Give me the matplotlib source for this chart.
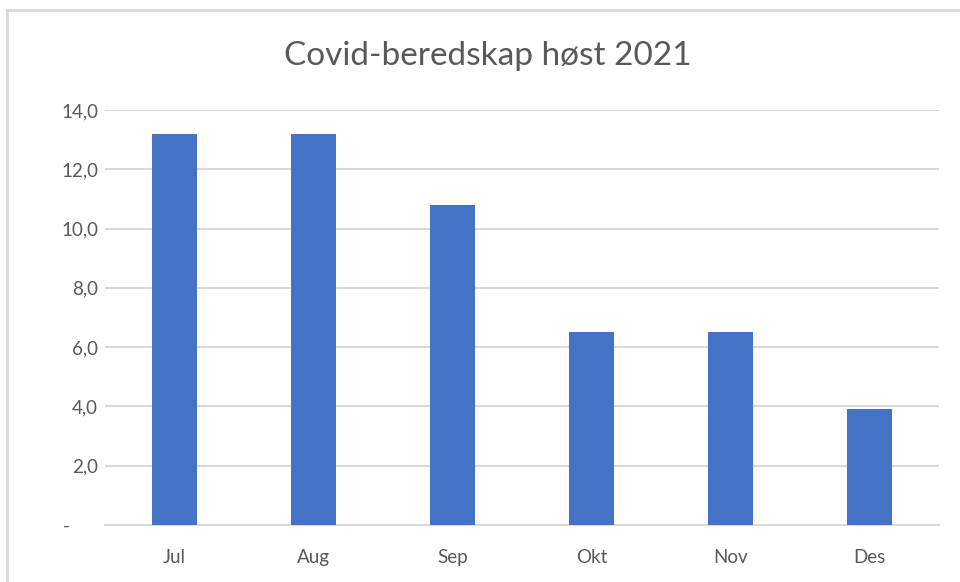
import matplotlib.pyplot as plt
from matplotlib.lines import Line2D

# data
months = ['Jul', 'Aug', 'Sep', 'Okt', 'Nov', 'Des']
values = [13.2, 13.2, 10.8, 6.5, 6.5, 3.9]
yticks = [0, 2, 4, 6, 8, 10, 12, 14]
ytick_labels = ['-      ', '2,0', '4,0', '6,0', '8,0', '10,0', '12,0', '14,0']

plt.rcParams['font.family'] = ['Lato', 'DejaVu Sans']
text_color = '#595959'
grid_color = '#D9D9D9'

fig = plt.figure(figsize=(9.6, 5.82), dpi=100)
ax = fig.add_axes([0.1094, 0.098, 0.869, 0.713])

ax.bar(range(len(months)), values, width=0.32, color='#4472C4', zorder=3)

ax.set_xlim(-0.5, len(months) - 0.5)
ax.set_ylim(0, 14)
ax.set_yticks(yticks)
ax.set_yticklabels(ytick_labels)
ax.set_xticks(range(len(months)))
ax.set_xticklabels(months)

ax.tick_params(axis='both', length=0, colors=text_color, labelsize=13.5)
ax.tick_params(axis='x', pad=17)
ax.tick_params(axis='y', pad=5)
ax.grid(axis='y', color=grid_color, linewidth=1.5, zorder=0)
for s in ['top', 'right', 'left']:
    ax.spines[s].set_visible(False)
ax.spines['bottom'].set_color(grid_color)
ax.spines['bottom'].set_linewidth(1.5)

fig.text(0.508, 0.903, 'Covid-beredskap høst 2021', ha='center', va='center',
         fontsize=24, color=text_color)

# chart border (top and left visible)
fig.add_artist(Line2D([0.007, 1.0], [0.983, 0.983], transform=fig.transFigure,
                      color='#D9D9D9', linewidth=2))
fig.add_artist(Line2D([0.007, 0.007], [0.0, 0.983], transform=fig.transFigure,
                      color='#D9D9D9', linewidth=2))

fig.savefig('out.png', dpi=100)
